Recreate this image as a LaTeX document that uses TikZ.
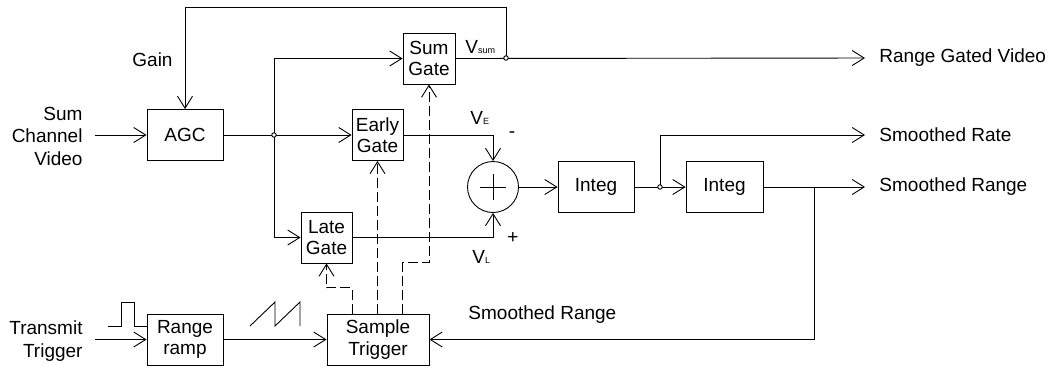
\documentclass[tikz,border=0pt]{standalone}
\usepackage{fontspec}
\setmainfont{Liberation Sans}
\usetikzlibrary{arrows.meta, positioning, calc}

\newcommand{\sub}[1]{{\fontsize{9}{9}\selectfont #1}}

\begin{document}
\begin{tikzpicture}[x=1pt, y=-1pt, line width=0.9pt,
  block/.style={draw, inner sep=0pt, minimum height=51pt, align=center,
                font=\fontsize{19}{21.5}\selectfont},
  txt/.style={inner sep=0pt, align=right, font=\fontsize{19}{22.5}\selectfont},
  arr/.style={-{Straight Barb[length=12pt,width=15pt]}},
  trig/.style={arr, dash pattern=on 10pt off 4pt},
  dot/.style={circle, draw, fill=white, inner sep=0pt, minimum size=4.5pt}]

\useasboundingbox (0,0) rectangle (1051,367);

% Blocks
\node[block, minimum width=76pt] (agc) at (185,135) {AGC};
\node[block, minimum width=52pt] (sumg) at (429,58.5) {Sum\\Gate};
\node[block, minimum width=51pt] (early) at (377.5,135) {Early\\Gate};
\node[block, minimum width=51pt] (late) at (326.5,237.5) {Late\\Gate};
\node[draw, circle, inner sep=0pt, minimum size=51pt] (summer) at (493,187) {};
\node[block, minimum width=76pt] (intega) at (596,187) {Integ};
\node[block, minimum width=77pt] (integb) at (724.5,187) {Integ};
\node[block, minimum width=76pt] (ramp) at (185,339.5) {Range\\ramp};
\node[block, minimum width=102pt] (samp) at (378,339.5) {Sample\\Trigger};

% Plus sign of the summer
\draw ($(summer)+(-13,0)$) -- ($(summer)+(13,0)$);
\draw ($(summer)+(0,-13)$) -- ($(summer)+(0,13)$);

% Inputs and outputs
\node[txt, anchor=east] (svin) at (83,136) {Sum\\Channel\\Video};
\node[txt, anchor=east] (trin) at (83,341) {Transmit\\Trigger};
\node[txt, anchor=west] (rgv) at (879,58) {Range Gated Video};
\node[txt, anchor=west] (srate) at (879,135) {Smoothed Rate};
\node[txt, anchor=west] (srange) at (879,187) {Smoothed Range};

% Labels
\node[txt, anchor=east] (gain) at (173,60) {Gain};
\node[txt, anchor=west] (vsum) at (465,47) {V\sub{sum}};
\node[txt, anchor=west] (ve) at (470,118) {V\sub{E}};
\node[txt, anchor=west] (vl) at (472,257) {V\sub{L}};
\node[txt] (minus) at (512,135) {-};
\node[txt] (plus) at (513,238) {+};
\node[txt, anchor=west] (fbl) at (468,315) {Smoothed Range};

% Junctions
\coordinate (ja) at (274,135);
\coordinate (jb) at (506,58);
\coordinate (jc) at (660,187);
\coordinate (jd) at (814,187);
\coordinate (fbtop) at (506,7);

% Connections
\draw[arr, shorten <=12pt] (svin.east |- agc.west) -- (agc.west);
\draw[arr] (agc.east) -- (early.west);
\draw[arr] (ja) |- (sumg.west);
\draw[arr] (ja) |- (late.west);
\draw[arr, shorten >=14pt] (sumg.east) -- (rgv.west);
\draw[arr] (jb) -- (fbtop) -| (agc.north);
\draw[arr] (early.east) -| (summer.north);
\draw[arr] (late.east) -| (summer.south);
\draw[arr] (summer.east) -- (intega.west);
\draw[arr] (intega.east) -- (integb.west);
\draw[arr, shorten >=14pt] (jc) |- (srate.west);
\draw[arr, shorten >=14pt] (integb.east) -- (srange.west);
\draw[arr] (jd) |- (samp.east);
\draw[arr, shorten <=12pt] (trin.east |- ramp.west) -- (ramp.west);
\draw[arr] (ramp.east) -- (samp.west);

% Gate triggers
\draw[trig] (samp.north -| late.east) -- ++(0,-26) -| (late.south);
\draw[trig] (samp.north -| early.south) -- (early.south);
\draw[trig] (samp.north -| sumg.west) -- ++(0,-51) -| (sumg.south);

% Junction dots
\foreach \j in {ja, jb, jc}
  \node[dot] at (\j) {};

% Waveforms
\draw (108,326) -- (121,326) -- (121,302) -- (134,302) -- (134,326) -- (ramp.west |- 0,326);
\draw (250,326) -- (275,302) -- (275,326) -- (300,302) -- (300,326);

\end{tikzpicture}
\end{document}
